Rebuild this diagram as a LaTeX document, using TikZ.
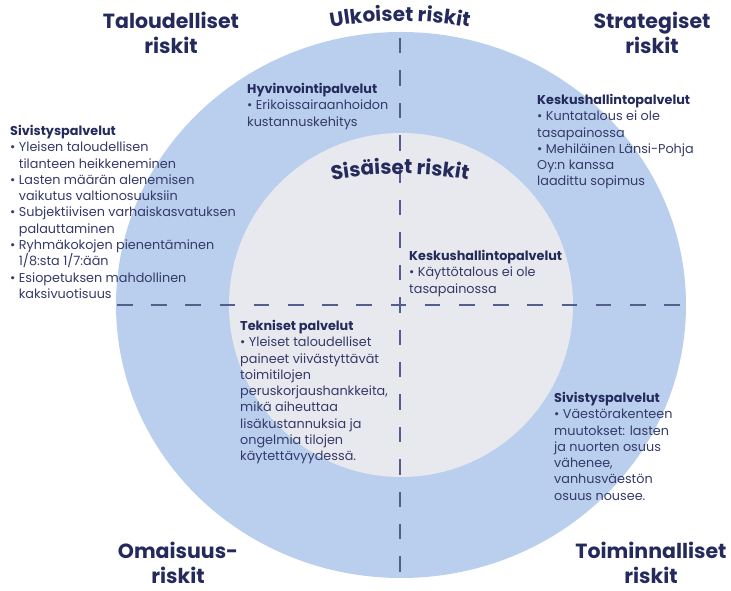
\documentclass[tikz,border=0pt]{standalone}
\usepackage{fontspec}
\setmainfont{Poppins}
\usetikzlibrary{decorations.text}
\definecolor{navy}{RGB}{36,42,92}
\definecolor{bodyink}{RGB}{52,58,104}
\definecolor{outerblue}{RGB}{186,207,237}
\definecolor{innergrey}{RGB}{232,233,238}
\definecolor{dashink}{RGB}{84,94,140}
\tikzset{
  title/.style={font=\fontsize{20.5}{25.5}\selectfont\bfseries,text=navy,
    align=center,inner sep=0pt},
  txt/.style={font=\fontsize{12.8}{16.3}\selectfont,text=bodyink,
    align=left,inner sep=0pt,anchor=north west},
  axis/.style={draw=dashink,line width=1.4pt},
  arctext/.style={decorate,decoration={text along path,text align=center,
    text color=navy,text={|\fontsize{20}{25}\selectfont\bfseries|#1}}},
}
\newcommand{\hd}[1]{{\bfseries\color{navy}#1}}
\newcommand{\ind}{\hphantom{•\ }}

\begin{document}
\begin{tikzpicture}[x=1pt,y=1pt]
  \useasboundingbox (0,0) rectangle (731,591);
  % circles
  \fill[outerblue] (401,286) ellipse[x radius=285,y radius=273];
  \fill[innergrey] (401,286) circle[radius=172];
  % axes
  \coordinate (west) at (117,286);
  \coordinate (east) at (686,286);
  \coordinate (north) at (400,553);
  \coordinate (south) at (400,17);
  \draw[axis,dash pattern=on 15.5pt off 18.7pt] (west) -- (east);
  \draw[axis,dash pattern=on 15.5pt off 16.9pt] (north) -- (south);
  % curved headings
  \path[arctext={Ulkoiset riskit}] (400,190) ++(104:380)
    arc[start angle=104,end angle=76,radius=380];
  \path[arctext={Sisäiset riskit}] (400,37) ++(104:380)
    arc[start angle=104,end angle=76,radius=380];
  % corner titles
  \node[title] (taloud) at (171,558) {Taloudelliset\\riskit};
  \node[title] (strateg) at (652,558) {Strategiset\\riskit};
  \node[title] (omaisuus) at (178,28) {Omaisuus-\\riskit};
  \node[title] (toimin) at (651,28) {Toiminnalliset\\riskit};
  % risk texts
  \node[txt] (hyvin) at (247,508) {\hd{Hyvinvointipalvelut}\\
    • Erikoissairaanhoidon\\kustannuskehitys};
  \node[txt] (keskusU) at (537,497) {\hd{Keskushallintopalvelut}\\
    • Kuntatalous ei ole\\tasapainossa\\
    • Mehiläinen Länsi-Pohja\\Oy:n kanssa\\laadittu sopimus};
  \node[txt] (sivistysL) at (10,466) {\hd{Sivistyspalvelut}\\
    • Yleisen taloudellisen\\\ind tilanteen heikkeneminen\\
    • Lasten määrän alenemisen\\\ind vaikutus valtionosuuksiin\\
    • Subjektiivisen varhaiskasvatuksen\\\ind palauttaminen\\
    • Ryhmäkokojen pienentäminen\\\ind 1/8:sta 1/7:ään\\
    • Esiopetuksen mahdollinen\\\ind kaksivuotisuus};
  \node[txt] (keskusS) at (409,341) {\hd{Keskushallintopalvelut}\\
    • Käyttötalous ei ole\\tasapainossa};
  \node[txt] (tekniset) at (240,271) {\hd{Tekniset palvelut}\\
    • Yleiset taloudelliset\\paineet viivästyttävät\\toimitilojen\\
    peruskorjaushankkeita,\\mikä aiheuttaa\\lisäkustannuksia ja\\
    ongelmia tilojen\\käytettävyydessä.};
  \node[txt] (sivistysR) at (554,199) {\hd{Sivistyspalvelut}\\
    • Väestörakenteen\\muutokset: lasten\\ja nuorten osuus\\
    vähenee,\\vanhusväestön\\osuus nousee.};
\end{tikzpicture}
\end{document}
